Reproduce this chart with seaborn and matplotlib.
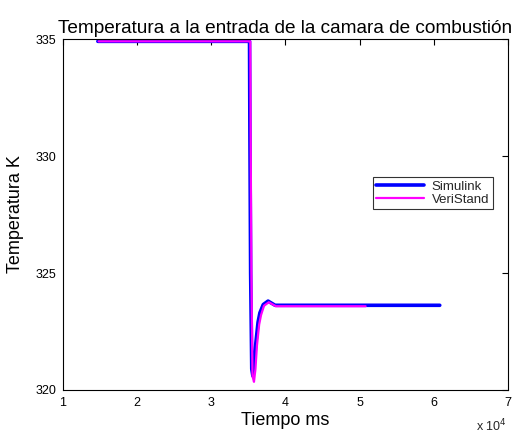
import matplotlib
matplotlib.use("Agg")
import matplotlib.pyplot as plt
import seaborn as sns
import pandas as pd

# Data (time in ms, temperature in K)
sim_t = [14700, 35150, 35200, 35300, 35450, 35600, 35800, 36000, 36300, 36550, 37000, 37650, 38600, 60800]
sim_T = [334.9, 334.9, 331.0, 325.0, 320.9, 320.6, 321.2, 322.0, 322.9, 323.3, 323.65, 323.8, 323.62, 323.62]

ver_t = [14800, 35250, 35300, 35400, 35550, 35750, 35950, 36150, 36450, 36700, 37100, 37750, 38700, 50800]
ver_T = [334.9, 334.9, 331.0, 325.0, 320.6, 320.35, 320.9, 321.9, 322.8, 323.2, 323.6, 323.75, 323.58, 323.58]

xticks = [10000, 20000, 30000, 40000, 50000, 60000, 70000]
xtick_labels = ["1", "2", "3", "4", "5", "6", "7"]
yticks = [320, 325, 330, 335]

df_sim = pd.DataFrame({"t": sim_t, "T": sim_T})
df_ver = pd.DataFrame({"t": ver_t, "T": ver_T})

sns.set_style("white")
plt.rcParams["font.family"] = ["Liberation Sans", "DejaVu Sans"]

fig = plt.figure(figsize=(5.18, 4.38), dpi=100)
ax = fig.add_axes([63/518, 1-390/438, (508-63)/518, (390-39)/438])

sns.lineplot(data=df_sim, x="t", y="T", ax=ax, color="#0000ff", lw=2.6,
             label="Simulink", sort=False, estimator=None)
sns.lineplot(data=df_ver, x="t", y="T", ax=ax, color="#ff00ff", lw=1.6,
             label="VeriStand", sort=False, estimator=None)

ax.set_xlim(10000, 70000)
ax.set_ylim(320, 335)
ax.set_xticks(xticks)
ax.set_xticklabels(xtick_labels)
ax.set_yticks(yticks)
ax.tick_params(direction="in", length=4, width=0.8, labelsize=9, colors="black",
               top=True, right=True, pad=5)
for s in ax.spines.values():
    s.set_visible(True)
    s.set_color("black")
    s.set_linewidth(0.8)

ax.set_xlabel("Tiempo ms", fontsize=13, labelpad=2, color="black")
ax.set_ylabel("Temperatura K", fontsize=13, labelpad=8, color="black")
ax.set_title("Temperatura a la entrada de la camara de combustión", fontsize=13.7, pad=4,
             color="black")
fig.text(476/518, 1-431/438, r"x 10$^4$", fontsize=9, ha="left", va="baseline")

leg = ax.legend(loc="upper left", bbox_to_anchor=((373-63)/445, 1-(177-39)/351),
                fontsize=9.5, frameon=True, fancybox=False, edgecolor="black",
                borderpad=0.25, labelspacing=0.1, handlelength=3.6, handletextpad=0.6,
                borderaxespad=0)
leg.get_frame().set_linewidth(0.8)

fig.savefig("out.png", dpi=100)
